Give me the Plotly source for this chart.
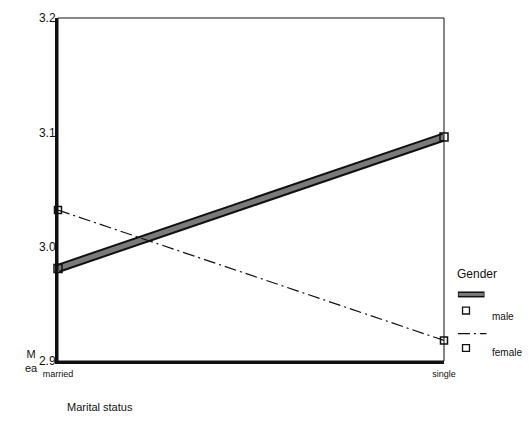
import plotly.graph_objects as go

categories = ["married", "single"]
male_means = [2.981, 3.096]
female_means = [3.032, 2.918]
y_ticks = [2.9, 3.0, 3.1, 3.2]
y_tick_labels = ["2.9", "3.0", "3.1", "3.2"]

font = "Liberation Sans, Arial, sans-serif"
fig = go.Figure()

# male: thick gray band with dark outline
fig.add_trace(go.Scatter(x=categories, y=male_means, mode="lines",
                         line=dict(color="#111111", width=9), showlegend=False,
                         cliponaxis=False, hoverinfo="skip"))
fig.add_trace(go.Scatter(x=categories, y=male_means, mode="lines+markers",
                         line=dict(color="#7a7a7a", width=5),
                         marker=dict(symbol="square-open", size=8, color="#111111",
                                     line=dict(width=1.5)),
                         showlegend=False, cliponaxis=False, name="male"))
# female: thin dash-dot
fig.add_trace(go.Scatter(x=categories, y=female_means, mode="lines+markers",
                         line=dict(color="#111111", width=1.2, dash="12px,4px,2px,4px"),
                         marker=dict(symbol="square-open", size=7, color="#111111",
                                     line=dict(width=1.5)),
                         showlegend=False, cliponaxis=False, name="female"))

# Custom legend in SPSS style
def legend_text(x, y, text, size):
    fig.add_annotation(x=x, y=y, xref="paper", yref="paper", text=text,
                       showarrow=False, xanchor="left", yanchor="middle",
                       font=dict(family=font, size=size, color="#111"))

def legend_square(cx, cy):
    fig.add_shape(type="rect", xref="paper", yref="paper",
                  x0=cx - 0.009, x1=cx + 0.009, y0=cy - 0.01, y1=cy + 0.01,
                  line=dict(color="#111", width=1.3), fillcolor="white")

legend_text(1.028, 0.255, "Gender", 12)
fig.add_shape(type="line", xref="paper", yref="paper", x0=1.036, x1=1.105,
              y0=0.194, y1=0.194, line=dict(color="#111", width=6))
fig.add_shape(type="line", xref="paper", yref="paper", x0=1.038, x1=1.103,
              y0=0.194, y1=0.194, line=dict(color="#7a7a7a", width=3))
legend_square(1.057, 0.147)
legend_text(1.12, 0.13, "male", 10)
fig.add_shape(type="line", xref="paper", yref="paper", x0=1.036, x1=1.11,
              y0=0.08, y1=0.08, line=dict(color="#111", width=1.2, dash="12px,4px,2px,4px"))
legend_square(1.057, 0.038)
legend_text(1.12, 0.026, "female", 10)

# axis titles
fig.add_annotation(x=-0.068, y=0.0, xref="paper", yref="paper", text="M<br>ea",
                   showarrow=False, xanchor="center", yanchor="middle", align="center",
                   font=dict(family=font, size=11, color="#111"))
fig.add_annotation(x=0.11, y=-0.135, xref="paper", yref="paper", text="Marital status",
                   showarrow=False, xanchor="center", yanchor="middle",
                   font=dict(family=font, size=11, color="#111"))

# thin top/right frame
fig.add_shape(type="rect", xref="paper", yref="paper", x0=0, x1=1, y0=0, y1=1,
              line=dict(color="#111", width=1))

fig.update_layout(
    width=529, height=425,
    margin=dict(l=58, r=85, t=11, b=64),
    paper_bgcolor="white", plot_bgcolor="white",
    font=dict(family=font, size=11, color="#111"),
    xaxis=dict(type="category", range=[0, 1], showgrid=False, zeroline=False,
               showline=True, linecolor="#111", linewidth=3, ticks="",
               tickfont=dict(size=9), ticklabelstandoff=2),
    yaxis=dict(range=[2.9, 3.2], tickvals=y_ticks, ticktext=y_tick_labels,
               showgrid=False, zeroline=False, showline=True, linecolor="#111",
               linewidth=3, ticks="", ticklabelstandoff=-3,
               tickfont=dict(size=12)),
)

fig.write_html("out.html", config={"displayModeBar": False},
               post_script="document.body.style.margin='0';document.body.style.overflow='hidden';")
